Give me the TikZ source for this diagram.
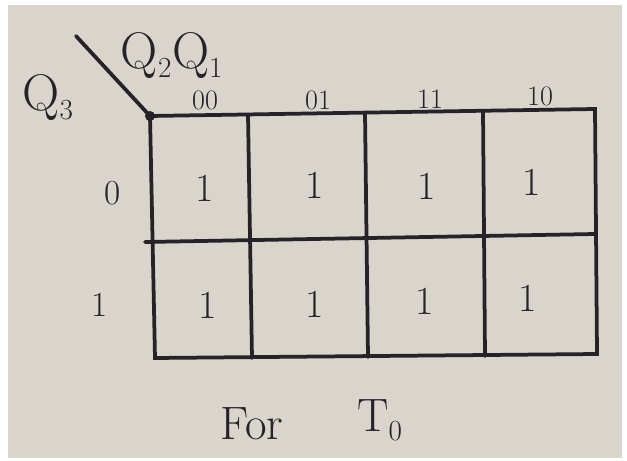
\documentclass[tikz,border=0pt]{standalone}
\usepackage{tikz}
\usetikzlibrary{positioning}
\usepackage{xcolor}
\definecolor{paper}{RGB}{217,213,204}
\definecolor{ink}{RGB}{38,34,40}

\begin{document}
\begin{tikzpicture}[x=0.03cm, y=-0.03cm,
        grid/.style={draw=ink, line width=3.2pt, line cap=round},
        cell/.style={text=ink, font=\fontsize{34}{36}\selectfont},
        head/.style={text=ink, font=\fontsize{24}{26}\selectfont},
        var/.style={text=ink, font=\fontsize{44}{46}\selectfont}]

        % Paper
        \fill[white] (0,0) rectangle (627,461);
        \fill[paper] (8,5) rectangle (622,458);
        \useasboundingbox (0,0) rectangle (627,461);

        % Grid corners
        \coordinate (tl) at (150,116);
        \coordinate (tr) at (595,109);
        \coordinate (ml) at (145,242);
        \coordinate (mr) at (595,234);
        \coordinate (bl) at (155,358);
        \coordinate (br) at (597,354);
        \coordinate (start) at (76,36);

        % Grid
        \draw[grid] (tl) -- (tr) -- (br) -- (bl) -- cycle;
        \draw[grid] (ml) -- (mr);
        \draw[grid] (248,115) -- (252,358);
        \draw[grid] (365,113) -- (368,357);
        \draw[grid] (483,111) -- (485,356);
        \draw[grid] (start) -- (tl);
        \fill[ink] (tl) circle (5);

        % Variables
        \node[var] (q3) at (48,98) {Q$_3$};
        \node[var] (q2q1) at (172,56) {Q$_2$Q$_1$};

        % Column heads
        \node[head] (h00) at (205,100) {00};
        \node[head] (h01) at (318,100) {01};
        \node[head] (h11) at (430,99) {11};
        \node[head] (h10) at (540,96) {10};

        % Row heads
        \node[head, font=\fontsize{30}{32}\selectfont] (r0) at (113,193) {0};
        \node[head, font=\fontsize{30}{32}\selectfont] (r1) at (100,305) {1};

        % Cells
        \node[cell] (c000) at (205,188) {1};
        \node[cell] (c001) at (315,185) {1};
        \node[cell] (c011) at (427,186) {1};
        \node[cell] (c010) at (532,182) {1};
        \node[cell] (c100) at (208,305) {1};
        \node[cell] (c101) at (315,304) {1};
        \node[cell] (c111) at (425,301) {1};
        \node[cell] (c110) at (528,298) {1};

        % Caption
        \node[var, font=\fontsize{40}{42}\selectfont] (for) at (252,424) {For};
        \node[var, font=\fontsize{40}{42}\selectfont] (t0) at (380,420) {T$_0$};
    \end{tikzpicture}
\end{document}
